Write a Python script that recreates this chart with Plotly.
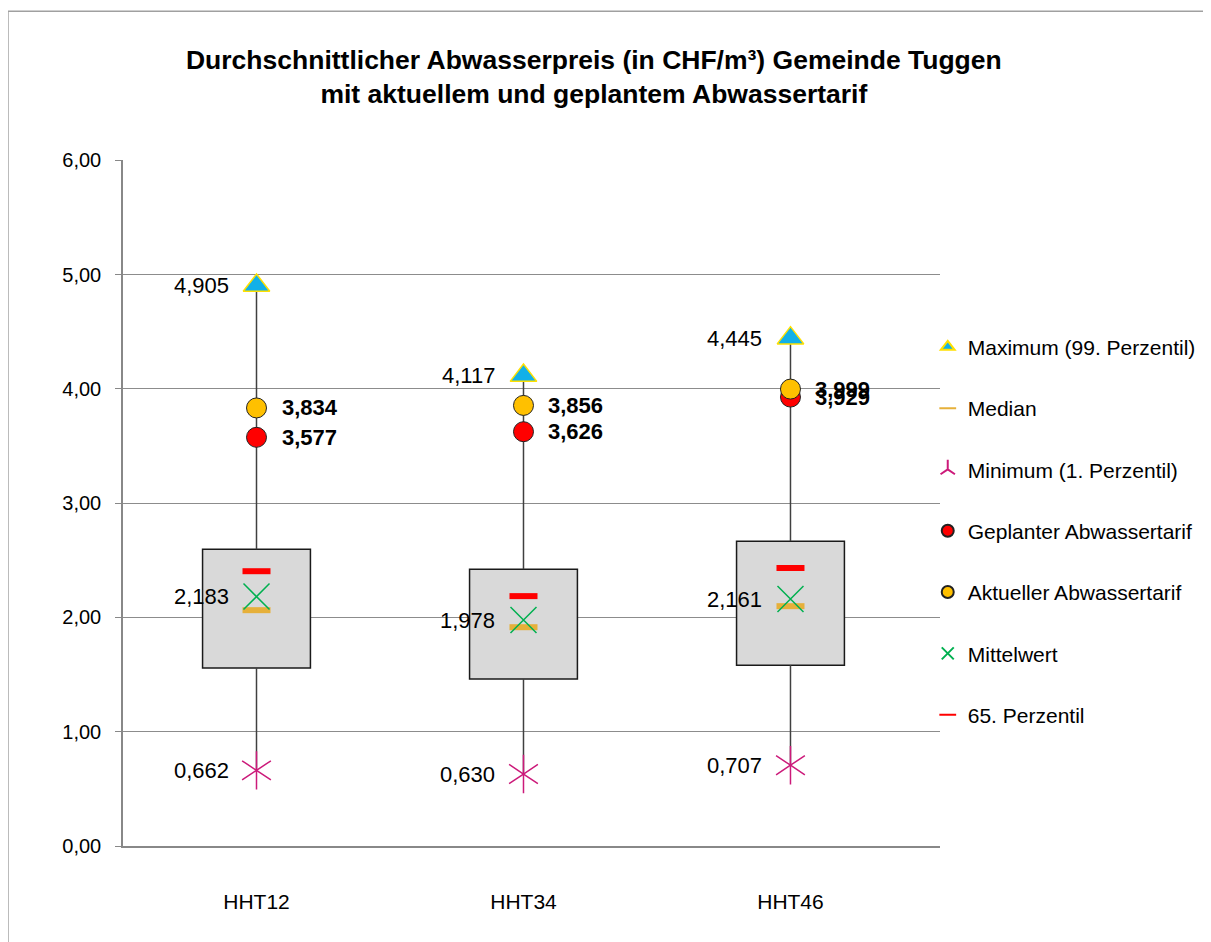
import plotly.graph_objects as go

categories = ["HHT12", "HHT34", "HHT46"]
q1 = [1.557, 1.461, 1.583]
q3 = [2.598, 2.423, 2.668]
minimum = [0.662, 0.630, 0.707]
maximum = [4.905, 4.117, 4.445]
median = [2.064, 1.915, 2.099]
mittelwert = [2.183, 1.978, 2.161]
p65 = [2.405, 2.187, 2.433]
geplant = [3.577, 3.626, 3.929]
aktuell = [3.834, 3.856, 3.999]

xs = list(range(len(categories)))
FONT = "Liberation Sans, Arial, sans-serif"


def fmt(v):
    return f"{v:.3f}".replace(".", ",")


fig = go.Figure()

# whiskers (outside the box)
wx, wy = [], []
for i in xs:
    wx += [i, i, None, i, i, None]
    wy += [q3[i], maximum[i], None, minimum[i], q1[i], None]
fig.add_trace(go.Scatter(x=wx, y=wy, mode="lines", line=dict(color="#404040", width=1.5),
                         showlegend=False, hoverinfo="skip"))

# boxes
fig.add_trace(go.Bar(x=xs, y=[q3[i] - q1[i] for i in xs], base=q1, width=0.404,
                     marker=dict(color="#D9D9D9", line=dict(color="#1a1a1a", width=1.5)),
                     showlegend=False, hoverinfo="skip"))

fig.add_trace(go.Scatter(x=xs, y=maximum, mode="markers", name="Maximum (99. Perzentil)",
                         legendgroup="a",
                         marker=dict(symbol="triangle-up", size=23, color="#12B0E8",
                                     line=dict(color="#FFE000", width=1.5))))
fig.add_trace(go.Scatter(x=xs, y=median, mode="markers", name="Median", legendgroup="b",
                         marker=dict(symbol="line-ew", size=20, color="#E6B03A",
                                     line=dict(color="#E6B03A", width=6))))
fig.add_trace(go.Scatter(x=xs, y=minimum, mode="markers", name="Minimum (1. Perzentil)",
                         legendgroup="c",
                         marker=dict(symbol="y-up-open", size=24, color="#CC1A7A",
                                     line=dict(color="#CC1A7A", width=1.5))))
fig.add_trace(go.Scatter(x=xs, y=minimum, mode="markers", name="Minimum (1. Perzentil)",
                         legendgroup="c", showlegend=False,
                         marker=dict(symbol="y-down-open", size=24, color="#CC1A7A",
                                     line=dict(color="#CC1A7A", width=1.5))))
fig.add_trace(go.Scatter(x=xs, y=geplant, mode="markers", name="Geplanter Abwassertarif",
                         legendgroup="d",
                         marker=dict(symbol="circle", size=20, color="#FF0000",
                                     line=dict(color="#222222", width=1))))
fig.add_trace(go.Scatter(x=xs, y=aktuell, mode="markers", name="Aktueller Abwassertarif",
                         legendgroup="e",
                         marker=dict(symbol="circle", size=20, color="#FFC000",
                                     line=dict(color="#222222", width=1))))
fig.add_trace(go.Scatter(x=xs, y=mittelwert, mode="markers", name="Mittelwert", legendgroup="f",
                         marker=dict(symbol="x-thin-open", size=26, color="#00B050",
                                     line=dict(color="#00B050", width=1.5))))
fig.add_trace(go.Scatter(x=xs, y=p65, mode="markers", name="65. Perzentil", legendgroup="g",
                         marker=dict(symbol="line-ew", size=20, color="#FF0000",
                                     line=dict(color="#FF0000", width=6))))

annotations = []
for i in xs:
    for v in (maximum[i], mittelwert[i], minimum[i]):
        annotations.append(dict(x=i, y=v, xref="x", yref="y", text=fmt(v), showarrow=False,
                                xanchor="right", yanchor="middle", xshift=-26,
                                font=dict(family=FONT, size=22, color="#000000")))
    for v in (aktuell[i], geplant[i]):
        annotations.append(dict(x=i, y=v, xref="x", yref="y", text="<b>" + fmt(v) + "</b>",
                                showarrow=False, xanchor="left", yanchor="middle", xshift=23,
                                font=dict(family=FONT, size=22, color="#000000")))

fig.update_layout(
    width=1203, height=934,
    paper_bgcolor="white", plot_bgcolor="white",
    margin=dict(l=115, r=271, t=152, b=96, autoexpand=False),
    separators=", ",
    title=dict(text="<b>Durchschnittlicher Abwasserpreis (in CHF/m³) Gemeinde Tuggen<br>"
                    "mit aktuellem und geplantem Abwassertarif</b>",
               x=0.487, xanchor="center", y=0.935, yanchor="top",
               font=dict(family=FONT, size=26.5, color="#000000")),
    font=dict(family=FONT, size=21, color="#000000"),
    showlegend=True,
    legend=dict(x=0.985, xanchor="left", y=0.757, yanchor="top",
                traceorder="grouped", tracegroupgap=31, itemsizing="constant",
                font=dict(family=FONT, size=21, color="#000000"), bgcolor="rgba(0,0,0,0)"),
    annotations=annotations,
    xaxis=dict(range=[-0.5, 2.56], tickmode="array", tickvals=xs, ticktext=categories,
               showgrid=False, zeroline=False, showline=True, linecolor="#888888", linewidth=1.5,
               ticks="", ticklabelstandoff=36, tickfont=dict(family=FONT, size=21)),
    yaxis=dict(range=[0, 6.004], tick0=0, dtick=1, tickformat=".2f", showgrid=True,
               gridcolor="#8C8C8C", gridwidth=1, zeroline=False, showline=True,
               linecolor="#888888", linewidth=1.5, ticks="outside", ticklen=6,
               tickcolor="#888888", ticklabelstandoff=10, tickfont=dict(family=FONT, size=20)),
    shapes=[dict(type="rect", xref="paper", yref="paper", x0=-0.1408, y0=-0.3, x1=1.5, y1=1.217,
                 line=dict(color="#A0A0A0", width=1.5), fillcolor="rgba(0,0,0,0)", layer="below")],
)

fig.write_html("out.html")
